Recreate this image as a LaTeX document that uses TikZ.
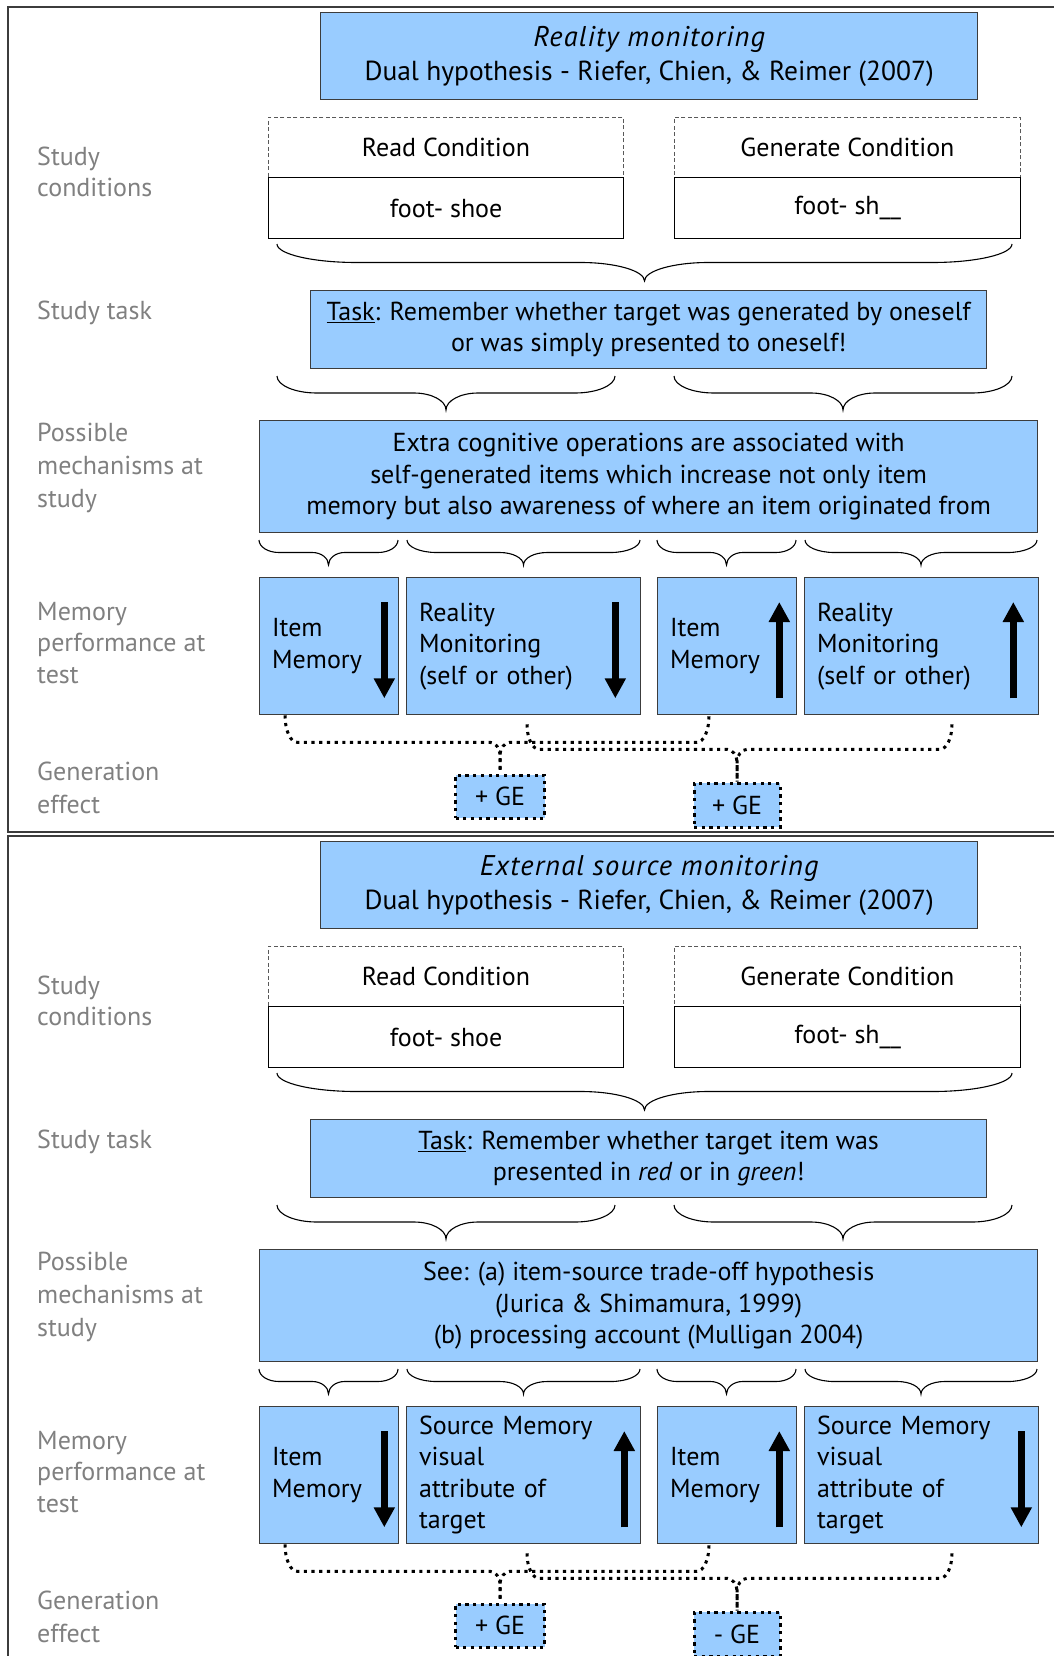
\documentclass[tikz,border=0pt]{standalone}
\usepackage{fontspec}
\setmainfont{PT Sans}
\usetikzlibrary{calc,arrows.meta}

\definecolor{boxblue}{RGB}{153,204,255}
\definecolor{labelgray}{RGB}{128,128,128}
\definecolor{edgegray}{RGB}{60,60,60}

\tikzset{
  every node/.style={font=\fontsize{26}{31.5}\selectfont},
  frame/.style={draw=edgegray, line width=1.5pt},
  bluebox/.style={draw=edgegray, line width=1.3pt, fill=boxblue, inner sep=0pt,
                  anchor=north west, align=center},
  whitebox/.style={draw=black, line width=1.3pt, fill=white, inner sep=0pt,
                   anchor=north west, align=center},
  dashbox/.style={draw=black!65, line width=0.9pt, dash pattern=on 4pt off 2.5pt,
                  inner sep=0pt, anchor=north west, align=center},
  membox/.style={bluebox, align=left, inner xsep=12.5pt, inner ysep=0pt,
                 minimum height=137pt},
  rowlabel/.style={anchor=west, align=left, text=labelgray, inner sep=0pt},
  gebox/.style={fill=boxblue, draw=black, line width=3pt,
                dash pattern=on 3.2pt off 4.5pt, inner sep=0pt},
  geline/.style={draw=black, line width=3pt, dash pattern=on 3.2pt off 4.5pt},
  bracestyle/.style={draw=black, line width=1.1pt},
  bigarrow/.style={draw=black, line width=6.5pt, -{Triangle[width=20pt,length=20pt]}},
}

% italic heading line of a panel title
\newcommand\headline[1]{{\fontsize{28.5}{34}\selectfont\addfontfeature{LetterSpace=4}\itshape #1}}

% curly brace opening downwards: left x, right x, top y, depth
\newcommand\curlybrace[4]{%
  \pgfmathsetmacro\cbA{#1}\pgfmathsetmacro\cbB{#2}\pgfmathsetmacro\cbY{#3}%
  \pgfmathsetmacro\cbH{#4/2}%
  \pgfmathsetmacro\cbM{(\cbA+\cbB)/2}%
  \pgfmathsetmacro\cbE{0.1*(\cbB-\cbA)+6}%
  \pgfmathsetmacro\cbT{0.08*(\cbB-\cbA)+5}%
  \pgfmathsetmacro\cbYm{\cbY+\cbH}%
  \pgfmathsetmacro\cbYt{\cbY+2*\cbH}%
  \draw[bracestyle] (\cbA,\cbY)
    .. controls (\cbA,\cbY+0.55*\cbH) and (\cbA+0.45*\cbE,\cbYm) .. (\cbA+\cbE,\cbYm)
    -- (\cbM-\cbT,\cbYm)
    .. controls (\cbM-0.45*\cbT,\cbYm) and (\cbM,\cbYt-0.55*\cbH) .. (\cbM,\cbYt)
    .. controls (\cbM,\cbYt-0.55*\cbH) and (\cbM+0.45*\cbT,\cbYm) .. (\cbM+\cbT,\cbYm)
    -- (\cbB-\cbE,\cbYm)
    .. controls (\cbB-0.45*\cbE,\cbYm) and (\cbB,\cbY+0.55*\cbH) .. (\cbB,\cbY);
}

% dotted link from a memory box into a generation-effect box
% #1 start, #2 target anchor, #3 drop before the horizontal run, #4 direction (1 or -1)
\newcommand\geconn[4]{%
  \draw[geline] let \p1=(#1), \p2=(#2) in
    (\p1) .. controls ({\x1},{\y1-0.55*#3pt}) and ({\x1+(#4)*5.4pt},{\y1-#3pt})
          .. ({\x1+(#4)*12pt},{\y1-#3pt})
    -- ({\x2-(#4)*10pt},{\y1-#3pt})
    .. controls ({\x2-(#4)*4.5pt},{\y1-#3pt}) and ({\x2},{\y1-#3pt-6.6pt})
          .. ({\x2},{\y1-#3pt-12pt})
    -- (\p2);
}

% thick arrows inside the memory boxes
\newcommand\arrowdown[2]{%
  \draw[bigarrow] ($(#1.north east)+(-#2,25)$) -- ($(#1.south east)+(-#2,-17)$);}
\newcommand\arrowup[2]{%
  \draw[bigarrow] ($(#1.south east)+(-#2,-17)$) -- ($(#1.north east)+(-#2,25)$);}

% one panel: #1 vertical offset, #2 title, #3 task, #4 mechanism,
% #5 second memory box, #6 fourth memory box, #7/#8 generation effect labels
\newcommand\panelbody[8]{%
  \def\pY{#1}%
  \draw[frame] (1070,\pY+7) -- (8,\pY+7) -- (8,\pY+832) -- (1070,\pY+832);
  % row labels
  \node[rowlabel] (p#1l1) at (37,\pY+172) {Study\\conditions};
  \node[rowlabel] (p#1l2) at (37,\pY+313) {Study task};
  \node[rowlabel, font=\fontsize{26}{33}\selectfont] (p#1l3) at (37,\pY+468)
       {Possible\\mechanisms at\\study};
  \node[rowlabel] (p#1l4) at (37,\pY+643) {Memory\\performance at\\test};
  \node[rowlabel, font=\fontsize{26}{33}\selectfont] (p#1l5) at (37,\pY+788)
       {Generation\\effect};
  % title
  \node[bluebox, minimum width=657pt, minimum height=87pt,
        font=\fontsize{27.5}{34}\selectfont] (p#1title) at (320,\pY+12)
       {\headline{#2}\\Dual hypothesis - Riefer, Chien, \& Reimer (2007)};
  % study conditions
  \node[dashbox, minimum width=355pt, minimum height=60pt] (p#1rc) at (268,\pY+117) {Read Condition};
  \node[whitebox, minimum width=355pt, minimum height=61pt] (p#1rw) at (268,\pY+177) {foot- shoe};
  \node[dashbox, minimum width=346pt, minimum height=60pt] (p#1gc) at (674,\pY+117) {Generate Condition};
  \node[whitebox, minimum width=346pt, minimum height=61pt] (p#1gw) at (674,\pY+177) {foot- sh\_\_};
  \curlybrace{277}{1012}{\pY+244}{37}
  % study task
  \node[bluebox, minimum width=676pt, minimum height=78pt] (p#1task) at (310,\pY+290) {#3};
  \curlybrace{277}{615}{\pY+376}{34}
  \curlybrace{674}{1012}{\pY+376}{34}
  % mechanisms
  \node[bluebox, minimum width=778pt, minimum height=112pt] (p#1mech) at (259,\pY+420) {#4};
  \curlybrace{259}{398}{\pY+540}{25}
  \curlybrace{407}{640}{\pY+540}{25}
  \curlybrace{657}{796}{\pY+540}{25}
  \curlybrace{805}{1037}{\pY+540}{25}
  % memory performance
  \node[membox, text width=114pt] (p#1m1) at (259,\pY+577) {Item\\Memory};
  \node[membox, text width=209pt] (p#1m2) at (406,\pY+577) {#5};
  \node[membox, text width=114pt] (p#1m3) at (657,\pY+577) {Item\\Memory};
  \node[membox, text width=209pt] (p#1m4) at (804,\pY+577) {#6};
  % generation effect
  \coordinate (p#1s1) at ($(p#1m1.south west)+(26,0)$);
  \coordinate (p#1s3) at ($(p#1m3.south west)+(52,1)$);
  \coordinate (p#1s2) at ($(p#1m2.south west)+(121,9)$);
  \coordinate (p#1s4) at ($(p#1m4.south west)+(148,9)$);
  \node[gebox, minimum width=89pt, minimum height=43pt] (p#1ge1) at (500,\pY+796.5) {#7};
  \node[gebox, minimum width=86pt, minimum height=44pt] (p#1ge2) at (737,\pY+805) {#8};
  \geconn{p#1s1}{p#1ge1.north}{27}{1}
  \geconn{p#1s3}{p#1ge1.north}{26}{-1}
  \geconn{p#1s2}{p#1ge2.north}{25}{1}
  \geconn{p#1s4}{p#1ge2.north}{25}{-1}
}

\begin{document}
\begin{tikzpicture}[x=1pt,y=-1pt]
\useasboundingbox (0,0) rectangle (1054,1656);
\clip (0,0) rectangle (1054,1656);

\panelbody{0}{Reality monitoring}
  {\underline{Task}: Remember whether target was generated by oneself\\or was simply presented to oneself!}
  {Extra cognitive operations are associated with\\self-generated items which increase not only item\\memory but also awareness of where an item originated from}
  {Reality\\Monitoring\\(self or other)}
  {Reality\\Monitoring\\(self or other)}
  {+ GE}{+ GE}
\arrowdown{p0m1}{15}
\arrowdown{p0m2}{26}
\arrowup{p0m3}{18}
\arrowup{p0m4}{26}

\panelbody{829}{External source monitoring}
  {\underline{Task}: Remember whether target item was\\presented in \textit{red} or in \textit{green}!}
  {See: (a) item-source trade-off hypothesis\\(Jurica \& Shimamura, 1999)\\(b) processing account (Mulligan 2004)}
  {Source Memory\\visual\\attribute of\\target}
  {Source Memory\\visual\\attribute of\\target}
  {+ GE}{- GE}
\arrowdown{p829m1}{15}
\arrowup{p829m2}{17}
\arrowup{p829m3}{18}
\arrowdown{p829m4}{18}
\end{tikzpicture}
\end{document}
